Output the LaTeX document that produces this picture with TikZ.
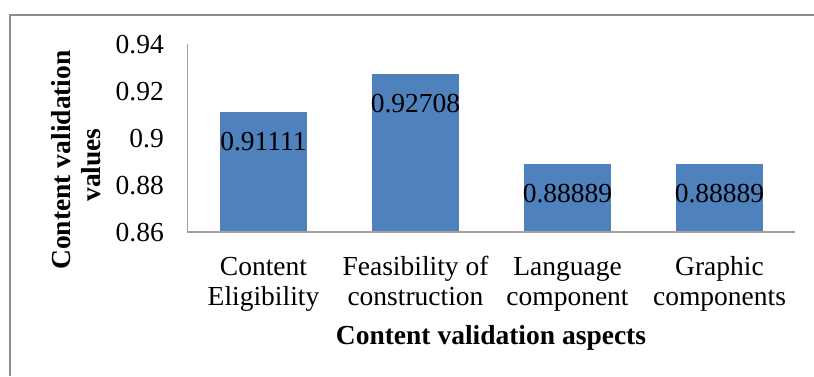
\documentclass[tikz,border=0pt]{standalone}
\usepackage{fontspec}
\setmainfont{Liberation Serif}
\definecolor{barblue}{HTML}{4F81BD}
\definecolor{framegray}{HTML}{8C8C8C}
\definecolor{axisgray}{HTML}{A0A0A0}
\begin{document}
\begin{tikzpicture}[x=1pt,y=-1pt,
  txt/.style={font=\fontsize{27.5}{31}\selectfont, inner sep=0pt, anchor=base},
  ttl/.style={font=\fontsize{27.5}{31}\selectfont\bfseries, inner sep=0pt, anchor=base},
  bar/.style={fill=barblue, draw=none},
  axisline/.style={draw=axisgray, line width=1.2pt},
  tick/.style={txt, anchor=base east}]
\useasboundingbox (0,0) rectangle (814,376);
\fill[white] (0,0) rectangle (814,376);
% frame
\coordinate (ftl) at (10,15);
\coordinate (ftr) at (814,15);
\coordinate (fbl) at (10,376);
\draw[framegray, line width=2pt] (fbl) -- (ftl) -- (ftr);
% bars
\fill[bar] (220,232) rectangle (307,111.9);
\fill[bar] (372,232) rectangle (459,74.3);
\fill[bar] (524,232) rectangle (611,164);
\fill[bar] (676,232) rectangle (763,164);
% axes
\coordinate (ytop) at (187.5,44);
\coordinate (orig) at (187.5,232);
\coordinate (xend) at (795,232);
\draw[axisline] (ytop) -- (orig) -- (xend);
% tick labels
\node[tick] (t94) at (164,53.5) {0.94};
\node[tick] (t92) at (164,100.5) {0.92};
\node[tick] (t90) at (164,147) {0.9};
\node[tick] (t88) at (164,194) {0.88};
\node[tick] (t86) at (164,241) {0.86};
% data labels
\node[txt] (v1) at (263.5,150.5) {0.91111};
\node[txt] (v2) at (415.5,112) {0.92708};
\node[txt] (v3) at (567.5,202) {0.88889};
\node[txt] (v4) at (719.5,202) {0.88889};
% category labels
\node[txt] (c1a) at (263.5,275) {Content};
\node[txt] (c1b) at (263.5,305.5) {Eligibility};
\node[txt] (c2a) at (415.5,275) {Feasibility of};
\node[txt] (c2b) at (415.5,305.5) {construction};
\node[txt] (c3a) at (567.5,275) {Language};
\node[txt] (c3b) at (567.5,305.5) {component};
\node[txt] (c4a) at (719.5,275) {Graphic};
\node[txt] (c4b) at (719.5,305.5) {components};
% axis titles
\node[ttl] (xt) at (491,344) {Content validation aspects};
\node[ttl, rotate=90] (yt1) at (70,160) {Content validation};
\node[ttl, rotate=90] (yt2) at (100,165) {values};
\end{tikzpicture}
\end{document}
